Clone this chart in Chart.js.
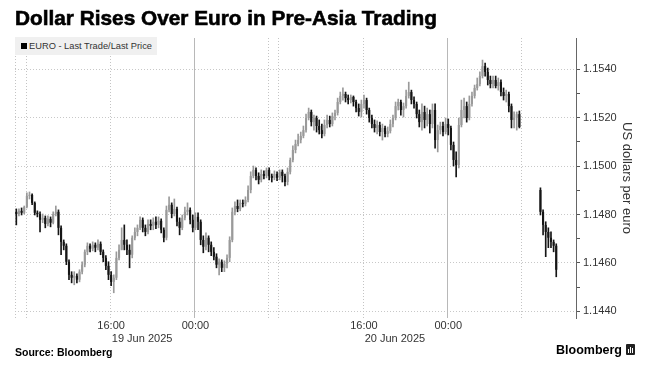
<!DOCTYPE html>
<html>
<head>
<meta charset="utf-8">
<script src="https://cdn.jsdelivr.net/npm/chart.js@4.4.1/dist/chart.umd.min.js"></script>
<style>
    body { margin: 0; background: #fff; }
    #wrap { position: relative; width: 651px; height: 370px; font-family: "Liberation Sans", Arial, sans-serif; overflow: hidden; }
    #chart { position: absolute; left: 0; top: 0; }
    #title { position: absolute; left: 15px; top: 6px; font-size: 20.8px; font-weight: bold; color: #000; white-space: nowrap; -webkit-text-stroke: 0.6px #000; }
    #legend { position: absolute; left: 15px; top: 37px; width: 142px; height: 18px; line-height: 18px; background: #f0f0f0; font-size: 9.3px; color: #333; white-space: nowrap; z-index: 2; }
    #legend .sq { display: inline-block; width: 6px; height: 6px; background: #000; margin: 0 2px 0 6px; vertical-align: 0; }
    #source { position: absolute; left: 15px; top: 346px; font-size: 10.5px; font-weight: bold; color: #000; }
    #logo { position: absolute; left: 556px; top: 343px; font-size: 12.5px; font-weight: bold; color: #000; white-space: nowrap; }
    #logo .ic { display: inline-block; width: 9px; height: 11px; background: #222; border-radius: 1px; margin-left: 4px; vertical-align: -1px; position: relative; }
    #logo .ic i { position: absolute; bottom: 2px; width: 1px; background: #fff; }
</style>
</head>
<body>
<div id="wrap">
    <canvas id="chart" width="651" height="370"></canvas>
    <div id="title">Dollar Rises Over Euro in Pre-Asia Trading</div>
    <div id="legend"><span class="sq"></span>EURO - Last Trade/Last Price</div>
    <div id="source">Source: Bloomberg</div>
    <div id="logo">Bloomberg<span class="ic"><i style="left:2px;height:4px"></i><i style="left:4px;height:6px"></i><i style="left:6px;height:5px"></i></span></div>
</div>
<script>
// 15-minute bars, 07:00 19 Jun to 07:00 21 Jun (Tokyo time)
const open1 = [
    1.14811, 1.14802, 1.14815, 1.14807, 1.14831, 1.14877, 1.14881, 1.14848, 1.14807, 1.14802,
    1.14778, 1.14786, 1.14761, 1.14782, 1.14766, 1.14802, 1.14811, 1.14745, 1.14687, 1.14671,
    1.14605, 1.14551, 1.14539, 1.14547, 1.14531, 1.14564, 1.14593, 1.14646, 1.14671, 1.14659,
    1.14675, 1.14663, 1.14679, 1.14646, 1.14621, 1.14588, 1.14551, 1.14522, 1.14539, 1.14621,
    1.14654, 1.14695, 1.14675, 1.14654, 1.14634, 1.14704, 1.14728, 1.14745, 1.14778, 1.14745,
    1.14728, 1.14761, 1.14753, 1.14770, 1.14757, 1.14774, 1.14737, 1.14704, 1.14819, 1.14840,
    1.14802, 1.14823, 1.14770, 1.14745, 1.14786, 1.14811, 1.14819, 1.14778, 1.14745, 1.14790,
    1.14770, 1.14695, 1.14667, 1.14704, 1.14675, 1.14646, 1.14626, 1.14593, 1.14605, 1.14580,
    1.14597, 1.14621, 1.14695, 1.14811, 1.14835, 1.14823, 1.14848, 1.14844, 1.14860, 1.14901,
    1.14959, 1.14984, 1.14959, 1.14943, 1.14967, 1.14959, 1.14984, 1.14959, 1.14951, 1.14967,
    1.14951, 1.14976, 1.14959, 1.14934, 1.14976, 1.15025, 1.15066, 1.15091, 1.15107, 1.15124,
    1.15148, 1.15198, 1.15223, 1.15181, 1.15198, 1.15165, 1.15148, 1.15132, 1.15169, 1.15190,
    1.15173, 1.15206, 1.15219, 1.15264, 1.15289, 1.15297, 1.15280, 1.15272, 1.15285, 1.15264,
    1.15239, 1.15223, 1.15256, 1.15272, 1.15231, 1.15198, 1.15173, 1.15157, 1.15169, 1.15140,
    1.15157, 1.15132, 1.15144, 1.15173, 1.15198, 1.15247, 1.15264, 1.15231, 1.15247, 1.15289,
    1.15305, 1.15272, 1.15256, 1.15214, 1.15181, 1.15223, 1.15190, 1.15214, 1.15173, 1.15231,
    1.15107, 1.15148, 1.15165, 1.15140, 1.15173, 1.15157, 1.15087, 1.15025, 1.15004, 1.15169,
    1.15231, 1.15247, 1.15198, 1.15256, 1.15289, 1.15322, 1.15338, 1.15371, 1.15412, 1.15388,
    1.15355, 1.15338, 1.15355, 1.15330, 1.15346, 1.15305, 1.15289, 1.15297, 1.15247, 1.15190,
    1.15198, 1.15214
];
const high1 = [
    1.14823, 1.14823, 1.14827, 1.14835, 1.14889, 1.14893, 1.14885, 1.14852, 1.14815, 1.14811,
    1.14802, 1.14794, 1.14794, 1.14790, 1.14811, 1.14835, 1.14819, 1.14753, 1.14695, 1.14679,
    1.14613, 1.14564, 1.14564, 1.14555, 1.14572, 1.14605, 1.14654, 1.14683, 1.14679, 1.14687,
    1.14683, 1.14695, 1.14687, 1.14654, 1.14630, 1.14605, 1.14564, 1.14551, 1.14646, 1.14675,
    1.14745, 1.14757, 1.14695, 1.14675, 1.14712, 1.14745, 1.14757, 1.14790, 1.14786, 1.14757,
    1.14778, 1.14778, 1.14786, 1.14790, 1.14790, 1.14782, 1.14745, 1.14835, 1.14873, 1.14848,
    1.14864, 1.14831, 1.14786, 1.14798, 1.14831, 1.14848, 1.14827, 1.14798, 1.14807, 1.14807,
    1.14778, 1.14712, 1.14724, 1.14712, 1.14687, 1.14663, 1.14638, 1.14617, 1.14613, 1.14609,
    1.14634, 1.14708, 1.14827, 1.14852, 1.14860, 1.14860, 1.14860, 1.14873, 1.14918, 1.14976,
    1.15000, 1.14992, 1.14972, 1.14984, 1.14980, 1.14992, 1.14992, 1.14967, 1.14980, 1.14976,
    1.14984, 1.14984, 1.14967, 1.14992, 1.15033, 1.15083, 1.15107, 1.15132, 1.15140, 1.15165,
    1.15214, 1.15239, 1.15231, 1.15210, 1.15206, 1.15190, 1.15173, 1.15190, 1.15210, 1.15206,
    1.15219, 1.15231, 1.15280, 1.15305, 1.15322, 1.15305, 1.15293, 1.15293, 1.15289, 1.15272,
    1.15256, 1.15272, 1.15293, 1.15280, 1.15239, 1.15210, 1.15190, 1.15186, 1.15181, 1.15173,
    1.15165, 1.15161, 1.15190, 1.15210, 1.15264, 1.15276, 1.15272, 1.15260, 1.15313, 1.15346,
    1.15313, 1.15285, 1.15264, 1.15231, 1.15256, 1.15247, 1.15239, 1.15231, 1.15256, 1.15256,
    1.15169, 1.15181, 1.15181, 1.15198, 1.15194, 1.15165, 1.15099, 1.15058, 1.15198, 1.15272,
    1.15280, 1.15264, 1.15289, 1.15305, 1.15334, 1.15363, 1.15388, 1.15437, 1.15425, 1.15404,
    1.15371, 1.15371, 1.15371, 1.15363, 1.15355, 1.15322, 1.15313, 1.15305, 1.15256, 1.15223,
    1.15223, 1.15227
];
const low1 = [
    1.14757, 1.14794, 1.14798, 1.14802, 1.14827, 1.14864, 1.14840, 1.14798, 1.14790, 1.14728,
    1.14766, 1.14745, 1.14753, 1.14749, 1.14761, 1.14794, 1.14716, 1.14634, 1.14654, 1.14593,
    1.14531, 1.14518, 1.14510, 1.14518, 1.14522, 1.14555, 1.14584, 1.14634, 1.14646, 1.14650,
    1.14646, 1.14654, 1.14634, 1.14605, 1.14572, 1.14531, 1.14506, 1.14477, 1.14531, 1.14613,
    1.14654, 1.14654, 1.14634, 1.14580, 1.14621, 1.14695, 1.14712, 1.14737, 1.14728, 1.14712,
    1.14720, 1.14737, 1.14737, 1.14741, 1.14745, 1.14724, 1.14687, 1.14695, 1.14811, 1.14786,
    1.14794, 1.14753, 1.14716, 1.14737, 1.14778, 1.14798, 1.14761, 1.14728, 1.14737, 1.14737,
    1.14675, 1.14642, 1.14654, 1.14646, 1.14630, 1.14613, 1.14580, 1.14551, 1.14564, 1.14564,
    1.14580, 1.14605, 1.14687, 1.14798, 1.14811, 1.14815, 1.14831, 1.14835, 1.14852, 1.14889,
    1.14951, 1.14943, 1.14926, 1.14934, 1.14947, 1.14951, 1.14943, 1.14934, 1.14943, 1.14939,
    1.14943, 1.14934, 1.14918, 1.14922, 1.14967, 1.15017, 1.15054, 1.15083, 1.15095, 1.15116,
    1.15140, 1.15190, 1.15165, 1.15148, 1.15140, 1.15132, 1.15116, 1.15124, 1.15157, 1.15161,
    1.15165, 1.15190, 1.15210, 1.15256, 1.15272, 1.15264, 1.15256, 1.15260, 1.15247, 1.15223,
    1.15206, 1.15202, 1.15239, 1.15214, 1.15181, 1.15157, 1.15140, 1.15132, 1.15124, 1.15107,
    1.15120, 1.15120, 1.15136, 1.15161, 1.15190, 1.15231, 1.15210, 1.15202, 1.15239, 1.15280,
    1.15256, 1.15239, 1.15198, 1.15161, 1.15148, 1.15157, 1.15165, 1.15136, 1.15157, 1.15074,
    1.15058, 1.15132, 1.15124, 1.15132, 1.15128, 1.15066, 1.15000, 1.14955, 1.14992, 1.15161,
    1.15198, 1.15181, 1.15190, 1.15247, 1.15280, 1.15313, 1.15330, 1.15363, 1.15371, 1.15334,
    1.15322, 1.15322, 1.15322, 1.15313, 1.15289, 1.15272, 1.15264, 1.15223, 1.15157, 1.15157,
    1.15148, 1.15157
];
const close1 = [
    1.14802, 1.14815, 1.14807, 1.14831, 1.14877, 1.14881, 1.14848, 1.14807, 1.14802, 1.14778,
    1.14786, 1.14761, 1.14782, 1.14766, 1.14802, 1.14811, 1.14745, 1.14687, 1.14671, 1.14605,
    1.14551, 1.14539, 1.14547, 1.14531, 1.14564, 1.14593, 1.14646, 1.14671, 1.14659, 1.14675,
    1.14663, 1.14679, 1.14646, 1.14621, 1.14588, 1.14551, 1.14522, 1.14539, 1.14621, 1.14654,
    1.14695, 1.14675, 1.14654, 1.14634, 1.14704, 1.14728, 1.14745, 1.14778, 1.14745, 1.14728,
    1.14761, 1.14753, 1.14770, 1.14757, 1.14774, 1.14737, 1.14704, 1.14819, 1.14840, 1.14802,
    1.14823, 1.14770, 1.14745, 1.14786, 1.14811, 1.14819, 1.14778, 1.14745, 1.14790, 1.14770,
    1.14695, 1.14667, 1.14704, 1.14675, 1.14646, 1.14626, 1.14593, 1.14605, 1.14580, 1.14597,
    1.14621, 1.14695, 1.14811, 1.14835, 1.14823, 1.14848, 1.14844, 1.14860, 1.14901, 1.14959,
    1.14984, 1.14959, 1.14943, 1.14967, 1.14959, 1.14984, 1.14959, 1.14951, 1.14967, 1.14951,
    1.14976, 1.14959, 1.14934, 1.14976, 1.15025, 1.15066, 1.15091, 1.15107, 1.15124, 1.15148,
    1.15198, 1.15223, 1.15181, 1.15198, 1.15165, 1.15148, 1.15132, 1.15169, 1.15190, 1.15173,
    1.15206, 1.15219, 1.15264, 1.15289, 1.15297, 1.15280, 1.15272, 1.15285, 1.15264, 1.15239,
    1.15223, 1.15256, 1.15272, 1.15231, 1.15198, 1.15173, 1.15157, 1.15169, 1.15140, 1.15157,
    1.15132, 1.15144, 1.15173, 1.15198, 1.15247, 1.15264, 1.15231, 1.15247, 1.15289, 1.15305,
    1.15272, 1.15256, 1.15214, 1.15181, 1.15223, 1.15190, 1.15214, 1.15173, 1.15231, 1.15107,
    1.15148, 1.15165, 1.15140, 1.15173, 1.15157, 1.15087, 1.15025, 1.15004, 1.15169, 1.15231,
    1.15247, 1.15198, 1.15256, 1.15289, 1.15322, 1.15338, 1.15371, 1.15412, 1.15388, 1.15355,
    1.15338, 1.15355, 1.15330, 1.15346, 1.15305, 1.15289, 1.15297, 1.15247, 1.15190, 1.15198,
    1.15214, 1.15161
];

// Monday pre-Asia bars
const open2 = [1.14901, 1.14811, 1.14757, 1.14728, 1.14704, 1.14687, 1.14671];
const high2 = [1.14910, 1.14819, 1.14770, 1.14745, 1.14728, 1.14695, 1.14679];
const low2 = [1.14798, 1.14716, 1.14626, 1.14663, 1.14663, 1.14646, 1.14543];
const close2 = [1.14811, 1.14757, 1.14728, 1.14704, 1.14687, 1.14671, 1.14572];

const totalBars = 213;
const session2Start = 199;

const yTicks = [1.144, 1.145, 1.146, 1.147, 1.148, 1.149, 1.150, 1.151, 1.152, 1.153, 1.154];
const yMin = 1.14373;
const yMax = 1.15528;

const xTickBars = [36, 68, 132, 164];
const xTickLabels = ["16:00", "00:00", "16:00", "00:00"];
const dateBars = [36, 132];
const dateLabels = ["19 Jun 2025", "20 Jun 2025"];
const dottedBars = [0, 4, 36, 96, 100, 132, 192];
const solidBars = [68, 164];

const UP = "#9a9a9a";
const DOWN = "#151515";

// put both sessions on one bar axis, gaps stay empty
const opens = new Array(totalBars).fill(null);
const highs = new Array(totalBars).fill(null);
const lows = new Array(totalBars).fill(null);
const closes = new Array(totalBars).fill(null);
open1.forEach((v, i) => { opens[i] = v; highs[i] = high1[i]; lows[i] = low1[i]; closes[i] = close1[i]; });
open2.forEach((v, i) => {
    const k = session2Start + i;
    opens[k] = v; highs[k] = high2[i]; lows[k] = low2[i]; closes[k] = close2[i];
});

const labels = opens.map((v, i) => i);
const wicks = opens.map((v, i) => v === null ? null : [lows[i], highs[i]]);
const bodies = opens.map((v, i) => v === null ? null : [opens[i], closes[i]]);

function candleColor(ctx) {
    const i = ctx.dataIndex;
    return closes[i] >= opens[i] ? UP : DOWN;
}

const isMajor = v => Math.round(v * 1000) % 2 === 0;

const gridLines = {
    id: "gridLines",
    beforeDatasetsDraw(chart) {
        const { ctx, chartArea, scales: { x } } = chart;
        const half = (x.getPixelForValue(1) - x.getPixelForValue(0)) / 2;
        const line = (idx, color, dash) => {
            const px = Math.round(x.getPixelForValue(idx) - half) + 0.5;
            ctx.save();
            ctx.strokeStyle = color;
            ctx.lineWidth = 1;
            ctx.setLineDash(dash);
            ctx.beginPath();
            ctx.moveTo(px, chartArea.top);
            ctx.lineTo(px, chartArea.bottom);
            ctx.stroke();
            ctx.restore();
        };
        dottedBars.forEach(b => line(b, "#c4c4c4", [1, 2]));
        solidBars.forEach(b => line(b, "#b8b8b8", []));
    },
    afterDraw(chart) {
        const { ctx, scales: { x } } = chart;
        const half = (x.getPixelForValue(1) - x.getPixelForValue(0)) / 2;
        ctx.save();
        ctx.font = "11px 'Liberation Sans', Arial, sans-serif";
        ctx.fillStyle = "#333";
        ctx.textAlign = "left";
        ctx.textBaseline = "middle";
        dateBars.forEach((b, i) => {
            ctx.fillText(dateLabels[i], x.getPixelForValue(b) - half + 2, 339);
        });
        ctx.restore();
    }
};

new Chart(document.getElementById("chart"), {
    type: "bar",
    data: {
        labels: labels,
        datasets: [
            {
                data: wicks,
                backgroundColor: candleColor,
                barThickness: 1,
                grouped: false,
                order: 2
            },
            {
                data: bodies,
                backgroundColor: candleColor,
                barPercentage: 0.8,
                categoryPercentage: 1,
                minBarLength: 1,
                grouped: false,
                order: 1
            }
        ]
    },
    options: {
        responsive: false,
        animation: false,
        layout: { padding: { top: 38, left: 15, right: 0, bottom: 0 } },
        plugins: {
            legend: { display: false },
            tooltip: { enabled: false }
        },
        scales: {
            x: {
                grid: { display: false, drawTicks: false, tickLength: 0 },
                border: { display: false },
                ticks: {
                    autoSkip: false,
                    maxRotation: 0,
                    padding: 1,
                    color: "#333",
                    font: { family: "'Liberation Sans', Arial, sans-serif", size: 11 },
                    callback: (v, i) => {
                        const k = xTickBars.indexOf(i);
                        return k >= 0 ? xTickLabels[k] : "";
                    }
                },
                afterFit: s => { s.height = 52; }
            },
            y: {
                position: "right",
                min: yMin,
                max: yMax,
                afterBuildTicks: s => { s.ticks = yTicks.map(v => ({ value: v })); },
                ticks: {
                    padding: 3,
                    color: "#333",
                    font: { family: "'Liberation Sans', Arial, sans-serif", size: 11 },
                    callback: v => isMajor(v) ? v.toFixed(4) : ""
                },
                grid: {
                    color: c => isMajor(c.tick.value) ? "#c8c8c8" : "rgba(0,0,0,0)",
                    tickColor: "#555",
                    tickLength: 4
                },
                border: { color: "#666", width: 1, dash: [1, 2] },
                title: {
                    display: true,
                    text: "US dollars per euro",
                    color: "#333",
                    font: { family: "'Liberation Sans', Arial, sans-serif", size: 13 },
                    padding: { top: 17, bottom: 0 }
                },
                afterFit: s => { s.width = 75; }
            }
        }
    },
    plugins: [gridLines]
});
</script>
</body>
</html>
